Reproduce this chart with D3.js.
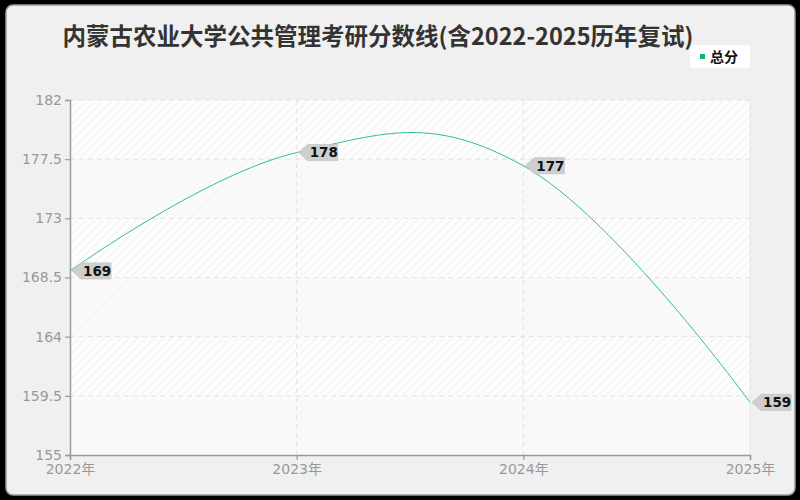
<!DOCTYPE html>
<html>
<head>
<meta charset="utf-8">
<script src="https://cdn.jsdelivr.net/npm/d3@7/dist/d3.min.js"></script>
<style>
  html, body { margin: 0; padding: 0; background: #000; }
  svg { display: block; }
</style>
</head>
<body>
<div id="main"></div>
<script>
// datos del gráfico
var years = ["2022年", "2023年", "2024年", "2025年"];
var scores = [169, 178, 177, 159];
var yTicks = [155, 159.5, 164, 168.5, 173, 177.5, 182];
var seriesName = "总分";
var titleText = "内蒙古农业大学公共管理考研分数线(含2022-2025历年复试)";

var width = 800, height = 500;
var margin = { left: 70, right: 50, top: 100, bottom: 45 };
var lineColor = "#34be8e";

var svg = d3.select("#main").append("svg")
  .attr("width", width)
  .attr("height", height);

var defs = svg.append("defs");
var hatch = defs.append("pattern")
  .attr("id", "hatch")
  .attr("patternUnits", "userSpaceOnUse")
  .attr("width", 6)
  .attr("height", 6)
  .attr("patternTransform", "rotate(45)");
hatch.append("rect").attr("width", 6).attr("height", 6).attr("fill", "#fdfdfd");
hatch.append("line")
  .attr("x1", 0).attr("y1", 0).attr("x2", 0).attr("y2", 6)
  .attr("stroke", "#ededed").attr("stroke-width", 1.5);

// marco exterior
svg.append("rect")
  .attr("x", 6).attr("y", 5)
  .attr("width", 789).attr("height", 490)
  .attr("rx", 7).attr("ry", 7)
  .attr("fill", "#f0f0f0")
  .attr("stroke", "#9a9a9a")
  .attr("stroke-width", 1.5);

var x = d3.scalePoint()
  .domain(years)
  .range([margin.left, width - margin.right]);

var y = d3.scaleLinear()
  .domain([155, 182])
  .range([height - margin.bottom, margin.top]);

// fondo del área de trazado
svg.append("rect")
  .attr("x", margin.left).attr("y", margin.top)
  .attr("width", width - margin.left - margin.right)
  .attr("height", height - margin.top - margin.bottom)
  .attr("fill", "url(#hatch)");

// bandas alternas
for (var i = 0; i < yTicks.length - 1; i++) {
  if (i % 2 === 0) {
    svg.append("rect")
      .attr("x", margin.left)
      .attr("y", y(yTicks[i + 1]))
      .attr("width", width - margin.left - margin.right)
      .attr("height", y(yTicks[i]) - y(yTicks[i + 1]))
      .attr("fill", "#f8f8f8")
      .attr("opacity", 0.7);
  }
}

// rejilla
svg.append("g").selectAll("line")
  .data(yTicks.slice(1))
  .enter().append("line")
  .attr("x1", margin.left).attr("x2", width - margin.right)
  .attr("y1", function(d) { return y(d); })
  .attr("y2", function(d) { return y(d); })
  .attr("stroke", "#e3e3e3")
  .attr("stroke-dasharray", "5,4");

svg.append("g").selectAll("line")
  .data(years.slice(1))
  .enter().append("line")
  .attr("x1", function(d) { return x(d); })
  .attr("x2", function(d) { return x(d); })
  .attr("y1", margin.top).attr("y2", height - margin.bottom)
  .attr("stroke", function(d, i) { return i === years.length - 2 ? "#e6e6e6" : "#e3e3e3"; })
  .attr("stroke-dasharray", function(d, i) { return i === years.length - 2 ? null : "5,4"; });

// ejes
var yAxis = svg.append("g")
  .attr("transform", "translate(" + margin.left + ",0)")
  .call(d3.axisLeft(y).tickValues(yTicks).tickSize(5).tickPadding(3).tickFormat(d3.format("")));
var xAxis = svg.append("g")
  .attr("transform", "translate(0," + (height - margin.bottom) + ")")
  .call(d3.axisBottom(x).tickSize(5).tickPadding(4));

[yAxis, xAxis].forEach(function(ax) {
  ax.select(".domain").attr("stroke", "#9a9a9a").attr("stroke-width", 1.5);
  ax.selectAll(".tick line").attr("stroke", "#9a9a9a").attr("stroke-width", 1.2);
  ax.selectAll(".tick text")
    .attr("fill", "#999")
    .attr("font-size", 14)
    .attr("font-family", "'DejaVu Sans', 'Noto Sans CJK SC', sans-serif");
});
yAxis.selectAll(".tick text").attr("dy", "0.32em");

// línea suavizada
var line = d3.line()
  .x(function(d, i) { return x(years[i]); })
  .y(function(d) { return y(d); })
  .curve(d3.curveCardinal.tension(-0.2));

svg.append("path")
  .datum(scores)
  .attr("d", line)
  .attr("fill", "none")
  .attr("stroke", lineColor)
  .attr("stroke-width", 1);

// etiquetas de valores
var labels = svg.append("g").selectAll("g")
  .data(scores)
  .enter().append("g")
  .attr("transform", function(d, i) { return "translate(" + (x(years[i]) + 2) + "," + y(d) + ")"; });

labels.append("path")
  .attr("d", "M0,0 L9,-8 L39,-8 L39,8 L9,8 Z")
  .attr("fill", "#cfcfcf")
  .attr("stroke", "#c4c4c4")
  .attr("stroke-width", 0.8);

labels.append("text")
  .attr("x", 11)
  .attr("y", 0)
  .attr("dy", "0.36em")
  .attr("font-size", 13.5)
  .attr("font-weight", "bold")
  .attr("font-family", "'DejaVu Sans', sans-serif")
  .attr("fill", "#111")
  .text(function(d) { return d; });

// título
svg.append("text")
  .attr("x", 378)
  .attr("y", 45)
  .attr("text-anchor", "middle")
  .attr("font-size", 23.5)
  .attr("font-weight", "bold")
  .attr("font-family", "'Noto Sans CJK SC', sans-serif")
  .attr("fill", "#333")
  .text(titleText);

// leyenda
var legend = svg.append("g").attr("transform", "translate(690,45)");
legend.append("rect")
  .attr("width", 60).attr("height", 23)
  .attr("rx", 4).attr("ry", 4)
  .attr("fill", "#fff");
legend.append("rect")
  .attr("x", 10).attr("y", 9)
  .attr("width", 5).attr("height", 5)
  .attr("fill", "#13b37f");
legend.append("text")
  .attr("x", 20).attr("y", 11.5)
  .attr("dy", "0.36em")
  .attr("font-size", 14)
  .attr("font-weight", "bold")
  .attr("font-family", "'Noto Sans CJK SC', sans-serif")
  .attr("fill", "#111")
  .text(seriesName);
</script>
</body>
</html>
